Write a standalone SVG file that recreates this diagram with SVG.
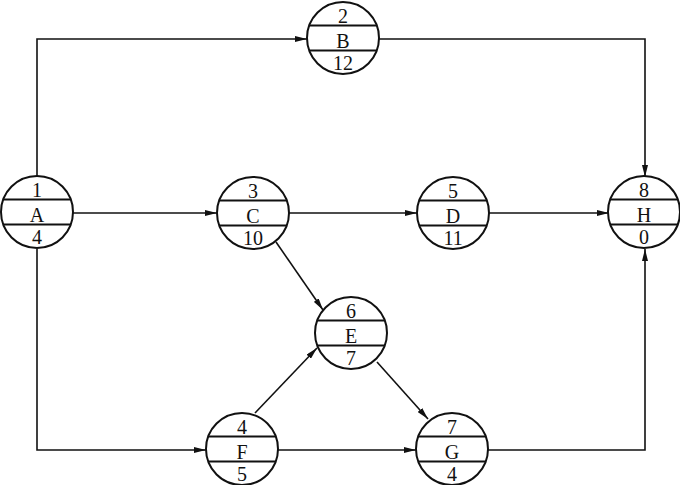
<svg xmlns="http://www.w3.org/2000/svg" width="680" height="485" viewBox="0 0 680 485">
<style>
.c{fill:#fff;stroke:#111;stroke-width:2}
.d{stroke:#111;stroke-width:2}
.e{fill:none;stroke:#111;stroke-width:1.6}
text{font-family:"Liberation Serif","Times New Roman",serif;font-size:20px;fill:#111;text-anchor:middle}
</style>
<defs>
<marker id="ar" viewBox="0 0 12 6" refX="12" refY="3" markerWidth="12" markerHeight="6" markerUnits="userSpaceOnUse" orient="auto">
<path d="M0,0 L12,3 L0,6 Z" fill="#111"/>
</marker>
<g id="node">
<circle class="c" cx="0" cy="0" r="36"/>
<line class="d" x1="-33.8" y1="-12.5" x2="33.8" y2="-12.5"/>
<line class="d" x1="-33.8" y1="12.5" x2="33.8" y2="12.5"/>
</g>
</defs>
<g id="connectors">
<path class="e" d="M37,176 V39 H307" marker-end="url(#ar)"/>
<path class="e" d="M379,39 H645 V177" marker-end="url(#ar)"/>
<path class="e" d="M73,213 H217" marker-end="url(#ar)"/>
<path class="e" d="M289,213 H417" marker-end="url(#ar)"/>
<path class="e" d="M489,213 H609" marker-end="url(#ar)"/>
<path class="e" d="M276,242 L323,310" marker-end="url(#ar)"/>
<path class="e" d="M37,249 V450 H206" marker-end="url(#ar)"/>
<path class="e" d="M255,413 L317,348" marker-end="url(#ar)"/>
<path class="e" d="M377,362 L428,419" marker-end="url(#ar)"/>
<path class="e" d="M278,450 H416" marker-end="url(#ar)"/>
<path class="e" d="M488,450 H645 V249" marker-end="url(#ar)"/>
</g>
<g id="A" transform="translate(37,212)"><use href="#node"/><text y="-15">1</text><text y="9.5">A</text><text y="32">4</text></g>
<g id="B" transform="translate(343,38)"><use href="#node"/><text y="-15">2</text><text y="9.5">B</text><text y="32">12</text></g>
<g id="C" transform="translate(253,213)"><use href="#node"/><text y="-15">3</text><text y="9.5">C</text><text y="32">10</text></g>
<g id="D" transform="translate(453,213)"><use href="#node"/><text y="-15">5</text><text y="9.5">D</text><text y="32">11</text></g>
<g id="H" transform="translate(644,212)"><use href="#node"/><text y="-15">8</text><text y="9.5">H</text><text y="32">0</text></g>
<g id="E" transform="translate(351,333)"><use href="#node"/><text y="-15">6</text><text y="9.5">E</text><text y="32">7</text></g>
<g id="F" transform="translate(242,449)"><use href="#node"/><text y="-15">4</text><text y="9.5">F</text><text y="32">5</text></g>
<g id="G" transform="translate(452,449)"><use href="#node"/><text y="-15">7</text><text y="9.5">G</text><text y="32">4</text></g>
</svg>
